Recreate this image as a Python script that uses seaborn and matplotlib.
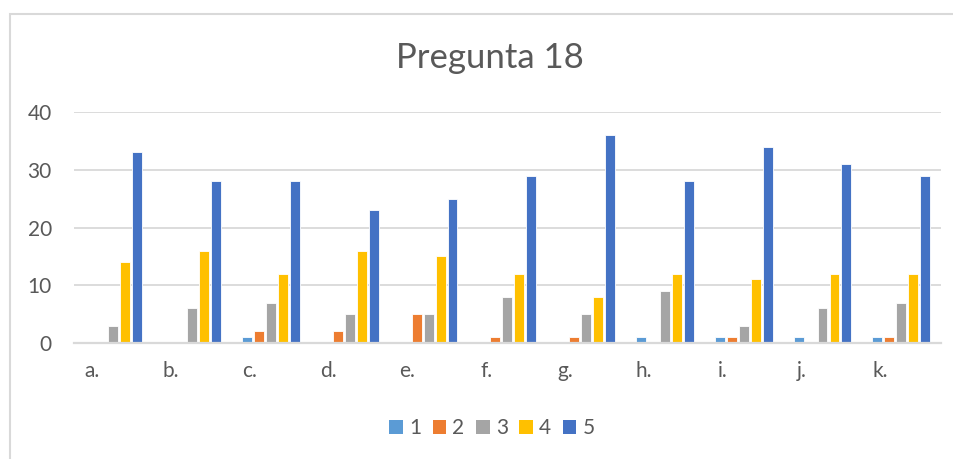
import pandas as pd
import numpy as np
import matplotlib.pyplot as plt
import matplotlib.transforms as mtransforms
from matplotlib.patches import Patch, Rectangle
import seaborn as sns

# datos de la pregunta 18
categorias = ['a.', 'b.', 'c.', 'd.', 'e.', 'f.', 'g.', 'h.', 'i.', 'j.', 'k.']
r1 = [0, 0, 1, 0, 0, 0, 0, 1, 1, 1, 1]
r2 = [0, 0, 2, 2, 5, 1, 1, 0, 1, 0, 1]
r3 = [3, 6, 7, 5, 5, 8, 5, 9, 3, 6, 7]
r4 = [14, 16, 12, 16, 15, 12, 8, 12, 11, 12, 12]
r5 = [33, 28, 28, 23, 25, 29, 36, 28, 34, 31, 29]
series = ['1', '2', '3', '4', '5']
colores = ['#5B9BD5', '#ED7D31', '#A5A5A5', '#FFC000', '#4472C4']

df = pd.DataFrame({'cat': categorias, '1': r1, '2': r2, '3': r3, '4': r4, '5': r5})
df = df.melt(id_vars='cat', var_name='serie', value_name='valor')

sns.set_style('white')
plt.rcParams['font.family'] = ['Lato', 'DejaVu Sans']
gris = '#595959'

fig = plt.figure(figsize=(9.54, 4.59), dpi=100)
ax = fig.add_axes([74/954, 0.2527, 866.7/954, 0.5033])

sns.barplot(data=df, x='cat', y='valor', hue='serie', order=categorias,
            hue_order=series, palette=colores, saturation=1, width=0.76, gap=0.17,
            edgecolor='white', linewidth=0.6, legend=False, ax=ax)

ax.set_ylim(0, 40)
ax.set_xlim(-0.5, 10.5)
ax.set_yticks([0, 10, 20, 30, 40])
ax.yaxis.grid(True, color='#D9D9D9', linewidth=1.3)
ax.set_axisbelow(True)
for s in ['top', 'right', 'left']:
    ax.spines[s].set_visible(False)
ax.spines['bottom'].set_color('#D9D9D9')
ax.spines['bottom'].set_linewidth(1.6)
ax.tick_params(axis='both', length=0, labelsize=15, labelcolor=gris)
ax.tick_params(axis='y', pad=16)
ax.tick_params(axis='x', pad=13)
ax.set_xlabel('')
ax.set_ylabel('')

# etiquetas de categoria un poco a la izquierda, como en Excel
desplazar = mtransforms.ScaledTranslation(-0.21, 0, fig.dpi_scale_trans)
for lab in ax.get_xticklabels():
    lab.set_transform(lab.get_transform() + desplazar)

fig.text(490/954, 1 - 58/459, 'Pregunta 18', ha='center', va='center',
         fontsize=25, color=gris)

handles = [Patch(facecolor=c, edgecolor='none') for c in colores]
fig.legend(handles, series, loc='center', bbox_to_anchor=(492/954, 1 - 428/459),
           ncol=5, frameon=False, fontsize=15, labelcolor=gris,
           handlelength=0.65, handleheight=0.65, handletextpad=0.3,
           columnspacing=0.55)

# marco del grafico
fig.patches.append(Rectangle((10/954, -0.1), 1.2, 1 - 13.5/459 + 0.1,
                             transform=fig.transFigure, fill=False,
                             edgecolor='#D9D9D9', linewidth=1.5))

fig.savefig('out.png', dpi=100)
